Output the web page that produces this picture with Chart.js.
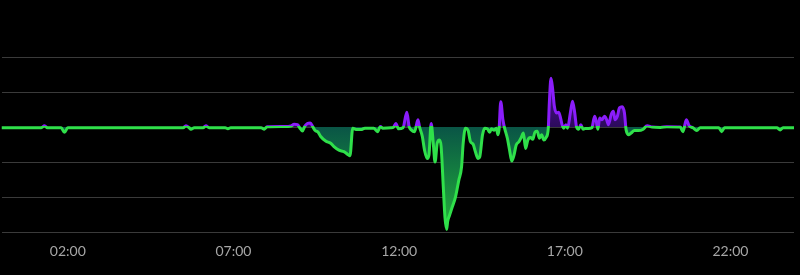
<!DOCTYPE html>
<html>
<head>
<meta charset="utf-8">
<script src="https://cdn.jsdelivr.net/npm/chart.js@4/dist/chart.umd.min.js"></script>
<style>
  html, body { margin: 0; padding: 0; background: #000; }
  #wrap { width: 800px; height: 275px; }
</style>
</head>
<body>
<div id="wrap"><canvas id="c" width="800" height="275"></canvas></div>
<script>
// Time of each reading, minutes after midnight
const minutes = [
  0, 72, 78, 83, 108, 114, 120, 329, 334, 340, 343, 349, 365, 370, 376, 405, 410, 415,
  470, 476, 481, 506, 519, 524, 530, 536, 540, 545, 549, 554, 559, 564, 568, 573, 578,
  587, 596, 602, 611, 620, 627, 631, 636, 642, 651, 658, 674, 681, 686, 690, 705, 710,
  714, 719, 727, 734, 738, 742, 748, 754, 757, 762, 766, 771, 774, 778, 782, 785, 789,
  793, 796, 800, 803, 806, 808, 811, 816, 822, 828, 833, 836, 840, 845, 849, 854, 858,
  863, 866, 871, 875, 880, 884, 887, 892, 896, 899, 901, 904, 908, 911, 916, 920, 924,
  928, 932, 937, 941, 945, 949, 953, 958, 962, 966, 970, 974, 978, 982, 986, 990, 992,
  995, 998, 1001, 1005, 1009, 1013, 1015, 1018, 1022, 1025, 1030, 1034, 1038, 1041, 1045,
  1049, 1053, 1057, 1063, 1069, 1074, 1077, 1080, 1083, 1087, 1092, 1096, 1099, 1104,
  1108, 1111, 1115, 1119, 1124, 1128, 1131, 1136, 1140, 1146, 1153, 1162, 1169, 1178,
  1193, 1205, 1229, 1234, 1240, 1245, 1252, 1259, 1265, 1299, 1304, 1309, 1404, 1410,
  1415, 1435
];
// Reading at each time
const values = [
  -0.02, -0.02, 0.04, -0.02, -0.02, -0.15, -0.02, -0.02, 0.04, -0.02, -0.06, -0.02, -0.02, 0.04, -0.02, -0.02, -0.05, -0.02,
  -0.02, -0.06, 0.01, 0.02, 0.02, 0.03, 0.08, 0.07, -0.02, -0.11, 0.02, 0.10, 0.12, 0.0, -0.10, -0.14, -0.27,
  -0.40, -0.46, -0.56, -0.66, -0.70, -0.78, -0.82, -0.03, -0.07, -0.07, -0.03, -0.03, -0.13, 0.02, -0.03, -0.02, 0.0,
  0.10, -0.05, -0.02, 0.42, 0.02, -0.08, -0.13, 0.21, 0.0, -0.27, -0.66, -0.90, -0.80, 0.10, -0.50, -1.00, -0.46,
  -0.37, -0.55, -1.72, -2.58, -2.92, -2.68, -2.53, -2.29, -2.00, -1.52, -1.14, -0.46, -0.03, -0.10, -0.41, -0.49, -0.70,
  -0.90, -0.85, -0.22, -0.03, -0.05, -0.15, -0.05, -0.09, -0.03, -0.22, -0.05, 0.72, 0.20, -0.03, -0.32, -0.66, -0.97,
  -0.80, -0.51, -0.42, -0.30, -0.17, -0.61, -0.37, -0.30, -0.35, -0.14, -0.12, -0.32, -0.22, -0.37, -0.30, -0.05, 0.70,
  1.39, 1.08, 0.60, 0.40, 0.42, 0.21, 0.07, -0.03, 0.07, -0.03, 0.40, 0.74, 0.40, 0.02, -0.06,
  0.07, -0.06, -0.04, -0.04, -0.02, 0.31, 0.16, -0.06, 0.26, 0.21, 0.31, 0.20, 0.07, 0.36,
  0.45, 0.21, 0.30, 0.55, 0.58, 0.40, -0.08, -0.22, -0.17, -0.10, -0.10, -0.06, 0.04, 0.0,
  -0.01, 0.01, 0.0, -0.13, 0.21, 0.04, -0.02, -0.10, -0.02, -0.02, -0.13, -0.02, -0.02, -0.08,
  -0.02, -0.02
];
// X-axis tick positions (minutes) and their labels
const tickMinutes = [120, 420, 720, 1020, 1320];
const tickLabels = ['02:00', '07:00', '12:00', '17:00', '22:00'];

const points = minutes.map((m, i) => ({ x: m, y: values[i] }));

const chart = new Chart(document.getElementById('c'), {
  type: 'line',
  data: {
    datasets: [{
      data: points,
      borderColor: '#2fe04a',
      borderWidth: 3,
      pointRadius: 0,
      cubicInterpolationMode: 'monotone',
      fill: { target: 'origin', above: '#3a0d70', below: '#0c5a46' }
    }]
  },
  options: {
    responsive: false,
    animation: false,
    layout: { padding: { top: 57, right: 6, bottom: 4, left: 0 } },
    plugins: { legend: { display: false }, tooltip: { enabled: false } },
    scales: {
      x: {
        type: 'linear',
        min: 0,
        max: 1435,
        afterBuildTicks: (axis) => { axis.ticks = tickMinutes.map(v => ({ value: v })); },
        ticks: {
          callback: (v) => tickLabels[tickMinutes.indexOf(v)],
          color: '#a6a6a6',
          font: { family: 'Lato', size: 14 },
          padding: 11,
          maxRotation: 0,
          autoSkip: false
        },
        grid: { display: false, drawTicks: false },
        border: { display: false }
      },
      y: {
        min: -3,
        max: 2,
        ticks: { display: false, stepSize: 1 },
        grid: { color: '#3a3a3a', lineWidth: 1, drawTicks: false },
        border: { display: false }
      }
    }
  }
});

// Build gradients based on the laid-out chart area
(function applyGradients() {
  const ctx = chart.ctx;
  const area = chart.chartArea;
  const zy = chart.scales.y.getPixelForValue(0);
  const line = ctx.createLinearGradient(0, area.top, 0, area.bottom);
  const stop = Math.max(0, Math.min(1, (zy - 1 - area.top) / (area.bottom - area.top)));
  line.addColorStop(0, '#8a1dfa');
  line.addColorStop(stop, '#8a1dfa');
  line.addColorStop(stop, '#2fe04a');
  line.addColorStop(1, '#2fe04a');

  const below = ctx.createLinearGradient(0, zy, 0, area.bottom);
  below.addColorStop(0, '#0a5546');
  below.addColorStop(0.5, '#16853f');
  below.addColorStop(1, '#27b23c');

  const above = ctx.createLinearGradient(0, zy, 0, area.top);
  above.addColorStop(0, '#2c0a5c');
  above.addColorStop(1, '#5c17b0');

  const ds = chart.data.datasets[0];
  ds.borderColor = line;
  ds.fill = { target: 'origin', above: above, below: below };
  chart.update('none');
})();
</script>
</body>
</html>
